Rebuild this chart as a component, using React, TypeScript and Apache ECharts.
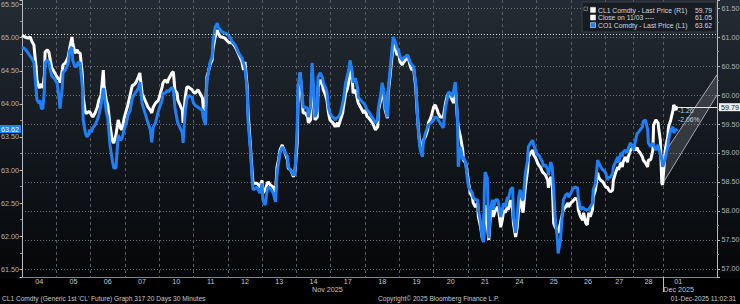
import React, { useEffect, useRef } from "react";
import * as echarts from "echarts";

const FONT = '"Liberation Sans", Arial, sans-serif';

// x axis: 30-minute bar slots
const SLOTS = 933;
const dayLabels = ["04", "05", "06", "07", "10", "11", "12", "13", "14", "17", "18", "19", "20", "21", "24", "25", "26", "27", "28", "01"];
const dayStarts = [0, 46, 92, 138, 184, 230, 276, 322, 368, 414, 460, 506, 552, 598, 644, 690, 736, 782, 820, 860];
const dayLabelAt = [23, 69, 115, 161, 207, 253, 299, 345, 391, 437, 483, 529, 575, 621, 667, 713, 759, 801, 840, 880];
const monthLabels = ["Nov 2025", "Dec 2025"];
const monthLabelAt = [389, 860];

// bar index of each sample
const times = [
  0, 4, 8, 11, 13, 16, 17, 19, 20, 23, 24, 26, 28, 30, 31, 34, 36, 38, 40, 43, 46,
  47, 50, 51, 54, 55, 58, 60, 62, 64, 67, 68, 71, 74, 75, 78, 81, 82, 85, 87, 89, 91,
  93, 95, 98, 101, 103, 106, 109, 110, 113, 115, 118, 121, 123, 126, 129, 132, 134, 137,
  140, 142, 145, 148, 150, 153, 156, 158, 161, 165, 169, 172, 174, 176, 179, 183,
  188, 189, 192, 195, 196, 201, 203, 205, 208, 209, 215, 216, 219, 221, 223, 228,
  230, 232, 236, 242, 243, 246, 248, 250, 252, 255, 256, 259, 262, 263, 266, 268, 272, 277,
  279, 282, 286, 290, 295, 297, 299, 302, 303, 306, 309, 310, 315, 319, 322,
  323, 326, 329, 330, 333, 337, 340, 342, 344, 346, 349, 350, 353, 356, 357, 360, 362, 364, 366,
  369, 370, 373, 376, 377, 380, 383, 384, 387, 389, 391, 393, 396, 397, 400, 403, 404, 407, 409, 411,
  413, 416, 417, 420, 423, 424, 427, 430, 431, 434, 436, 438, 440, 443, 444, 447, 450, 451, 454, 458,
  460, 463, 464, 470, 474, 477, 478, 481, 483, 485, 487, 490, 491, 494, 497, 498, 501, 503,
  505, 507, 510, 511, 514, 517, 518, 521, 523, 525, 528, 530, 532, 534, 537, 538, 541, 544, 545, 548, 550,
  552, 554, 557, 558, 561, 564, 565, 568, 570, 572, 575, 577, 579, 581, 584, 585, 588, 591, 592, 595,
  597, 599, 601, 604, 605, 608, 611, 612, 615, 617, 619, 620, 621, 624, 626, 628, 631, 632, 635, 638, 639, 642,
  644, 646, 648, 651, 652, 655, 658, 659, 662, 664, 666, 668, 671, 672, 675, 678, 679, 682, 685, 686, 689,
  691, 693, 695, 698, 699, 702, 705, 706, 709, 711, 713, 715, 718, 719, 722, 725, 726, 729, 732, 733,
  736, 738, 740, 742, 745, 746, 749, 752, 753, 756, 758, 760, 762, 765, 766, 769, 772, 773, 776, 779, 780,
  783, 785, 787, 789, 792, 793, 796, 799, 800, 803, 805, 806, 809, 812, 813, 816, 819,
  820, 822, 825, 826, 829, 832, 833, 836, 839, 840, 843, 846, 847, 850, 853, 854, 856, 858, 859,
  860, 862, 863, 866, 867, 870, 873, 874, 877, 878, 879,
];

// CL1 Comdty (right axis)
const cl1 = [
  61.03, 61.0, 60.98, 61.0, 60.93, 60.86, 60.72, 60.47, 60.26, 60.12, 60.14, 60.19, 60.12, 60.34, 60.74, 60.78, 60.74, 60.6, 60.47, 60.4, 60.33,
  60.31, 60.26, 60.21, 60.43, 60.52, 60.55, 60.6, 60.66, 60.81, 61.0, 60.9, 60.72, 60.78, 60.74, 60.72, 60.34, 59.97, 59.69, 59.69, 59.71, 59.71,
  59.66, 59.62, 59.69, 59.79, 59.91, 60.0, 60.43, 60.17, 59.91, 59.83, 59.48, 59.22, 59.17, 59.31, 59.57, 59.43, 59.4, 59.6,
  59.74, 59.83, 60.0, 60.17, 60.17, 60.22, 60.31, 60.38, 60.03, 59.91, 59.79, 59.74, 59.69, 59.79, 59.86, 59.91,
  60.14, 60.21, 60.26, 60.21, 60.26, 60.38, 60.4, 60.09, 60.03, 59.91, 59.74, 59.52, 59.97, 60.14, 60.14, 60.09,
  60.05, 60.03, 60.09, 59.95, 59.79, 59.74, 60.31, 60.4, 60.52, 60.6, 60.78, 61.0, 61.12, 61.07, 61.0, 61.0, 60.98, 60.91,
  60.9, 60.9, 60.83, 60.72, 60.57, 60.43, 60.57, 60.14, 59.74, 59.17, 58.59, 58.48, 58.48, 58.41, 58.53,
  58.31, 58.36, 58.48, 58.5, 58.45, 58.41, 58.31, 58.76, 58.88, 59.05, 59.14, 59.1, 59.0, 58.88, 58.74, 58.71, 58.66, 58.59, 58.66,
  59.17, 59.86, 60.38, 59.86, 59.69, 59.69, 59.62, 59.52, 59.57, 60.38, 59.97, 59.57, 59.62, 60.14, 60.26, 60.17, 60.09, 60.0, 59.91, 59.69,
  59.57, 59.53, 59.52, 59.45, 59.52, 59.45, 59.57, 59.69, 59.79, 60.03, 60.09, 60.21, 60.48, 60.26, 60.03, 60.09, 59.91, 59.86, 59.79, 59.69,
  59.74, 59.62, 59.62, 59.52, 59.4, 59.45, 59.74, 59.91, 60.14, 59.97, 59.74, 59.6, 60.03, 60.38, 60.78, 60.9, 60.78, 60.69,
  60.72, 60.57, 60.52, 60.55, 60.6, 60.66, 60.64, 60.48, 60.43, 60.47, 60.14, 59.69, 59.34, 59.1, 59.14, 59.22, 59.28, 59.4, 59.52, 59.6, 59.69,
  59.79, 59.83, 59.74, 59.69, 59.62, 59.62, 59.62, 59.86, 59.97, 60.03, 59.97, 59.91, 59.86, 60.14, 59.57, 59.45, 59.28, 59.05, 58.88, 58.83,
  58.66, 58.48, 58.31, 58.24, 58.14, 58.07, 58.14, 57.9, 57.72, 57.55, 57.5, 57.93, 58.1, 57.76, 57.5, 57.9, 58.07, 57.9, 58.02, 58.07, 58.02, 57.72,
  57.84, 58.02, 57.97, 58.07, 58.02, 58.19, 58.02, 57.79, 57.55, 57.72, 58.02, 58.24, 58.02, 57.97, 58.41, 58.71, 58.93, 59.0, 59.05, 58.97, 58.91,
  58.84, 58.79, 58.76, 58.67, 58.66, 58.62, 58.53, 58.4, 58.59, 58.5, 57.79, 57.72, 57.67, 57.62, 57.79, 57.97, 58.02, 58.07, 58.14, 58.07,
  58.14, 58.16, 58.19, 58.22, 58.19, 58.02, 57.9, 57.84, 57.97, 57.79, 57.76, 57.97, 57.9, 58.02, 58.24, 58.36, 58.66, 58.59, 58.53, 58.5, 58.48,
  58.41, 58.41, 58.36, 58.33, 58.36, 58.53, 58.66, 58.76, 58.71, 58.84, 58.76, 58.84, 58.93, 58.84, 58.93, 59.05, 59.09,
  59.14, 59.05, 59.09, 59.05, 59.0, 58.93, 58.88, 58.83, 58.76, 58.88, 58.88, 59.05, 59.48, 59.57, 59.52, 59.4, 59.22, 58.48, 58.45,
  58.62, 58.93, 59.09, 59.28, 59.45, 59.57, 59.74, 59.83, 59.74, 59.79, 59.79,
];

// CO1 Comdty (left axis)
const co1 = [
  64.86, 64.83, 64.77, 64.72, 64.69, 64.63, 64.48, 64.21, 64.06, 64.01, 64.06, 63.93, 63.93, 64.21, 64.62, 64.66, 64.63, 64.51, 64.42, 64.39, 64.33,
  64.32, 64.06, 63.93, 64.25, 64.47, 64.51, 64.56, 64.62, 64.81, 64.86, 64.66, 64.56, 64.57, 64.63, 64.62, 64.25, 63.76, 63.56, 63.5, 63.53, 63.61,
  63.57, 63.64, 63.68, 63.76, 63.83, 63.98, 64.24, 64.18, 63.88, 63.79, 63.38, 63.15, 63.03, 63.03, 63.53, 63.45, 63.48, 63.61,
  63.71, 63.83, 63.9, 64.1, 64.13, 64.18, 64.24, 64.33, 64.01, 63.86, 63.71, 63.61, 63.42, 63.65, 63.71, 63.9,
  64.06, 64.16, 64.16, 64.21, 64.18, 64.25, 64.21, 63.95, 63.76, 63.71, 63.56, 63.41, 63.9, 64.06, 64.13, 64.1,
  64.01, 63.98, 63.95, 63.9, 63.8, 63.68, 64.36, 64.47, 64.62, 64.71, 64.92, 65.16, 65.22, 65.16, 65.12, 65.09, 65.07, 65.04,
  65.01, 64.94, 64.89, 64.78, 64.69, 64.62, 64.54, 64.21, 63.76, 63.35, 62.8, 62.7, 62.74, 62.65, 62.8,
  62.55, 62.47, 62.7, 62.74, 62.73, 62.65, 62.52, 62.95, 63.11, 63.26, 63.35, 63.33, 63.26, 63.2, 63.05, 63.0, 62.97, 62.92, 62.95,
  63.61, 64.25, 64.48, 64.1, 63.95, 63.95, 63.93, 63.8, 63.95, 64.62, 64.25, 63.8, 63.9, 64.41, 64.47, 64.39, 64.33, 64.25, 64.18, 63.95,
  63.86, 63.8, 63.8, 63.76, 63.8, 63.79, 63.86, 64.01, 64.06, 64.32, 64.41, 64.51, 64.66, 64.47, 64.32, 64.39, 64.24, 64.1, 64.06, 64.01,
  63.98, 63.9, 63.9, 63.79, 63.71, 63.76, 63.95, 64.13, 64.32, 64.21, 63.95, 63.8, 64.21, 64.56, 64.92, 65.01, 64.92, 64.84,
  64.81, 64.71, 64.66, 64.69, 64.71, 64.74, 64.71, 64.62, 64.59, 64.56, 64.32, 63.9, 63.5, 63.3, 63.2, 63.41, 63.56, 63.65, 63.68, 63.71, 63.73,
  63.76, 63.8, 63.79, 63.76, 63.71, 63.65, 63.64, 63.95, 64.06, 64.18, 64.16, 64.1, 64.21, 64.33, 63.8, 63.05, 63.35, 63.15, 63.2, 63.11,
  62.89, 62.74, 62.7, 62.65, 62.59, 62.55, 62.55, 62.4, 62.21, 61.97, 61.91, 62.7, 62.97, 62.88, 61.97, 62.4, 62.55, 62.4, 62.55, 62.55, 62.5, 62.29,
  62.4, 62.5, 62.44, 62.59, 62.55, 62.7, 62.74, 62.29, 62.05, 62.29, 62.59, 62.7, 62.55, 62.55, 62.95, 63.15, 63.35, 63.41, 63.45, 63.38, 63.3,
  63.23, 63.23, 63.18, 63.12, 63.05, 63.08, 63.0, 62.92, 63.12, 63.05, 62.7, 62.29, 61.94, 61.74, 61.94, 62.4, 62.55, 62.62, 62.65, 62.59,
  62.65, 62.7, 62.73, 62.74, 62.73, 62.59, 62.4, 62.44, 62.42, 62.4, 62.4, 62.4, 62.44, 62.5, 62.7, 62.8, 63.15, 63.12, 63.05, 63.0, 63.0,
  62.95, 62.85, 62.89, 62.89, 62.95, 63.05, 63.12, 63.2, 63.11, 63.26, 63.2, 63.27, 63.3, 63.26, 63.33, 63.41, 63.35,
  63.3, 63.41, 63.56, 63.56, 63.61, 63.65, 63.73, 63.76, 63.61, 63.41, 63.35, 63.41, 63.38, 63.3, 63.38, 63.33, 63.23, 63.15, 63.05,
  63.08, 63.15, 63.2, 63.35, 63.45, 63.61, 63.65, 63.56, 63.61, 63.61, 63.62,
];

const cl1Last = 59.79;
const co1Last = 63.62;
const cl1Close = 61.05;
const lastIndex = 878;
const changeText = ["-1.26", "-2.06%"];

// trend channel (right axis)
const channelX = [859, 932];
const channelUpper = [58.95, 60.35];
const channelLower = [58.47, 60.0];

const legendRows = [
  { label: "CL1 Comdty - Last Price (R1)", value: "59.79", color: "#ffffff" },
  { label: "Close on 11/03 ----", value: "61.05", color: "#ffffff" },
  { label: "CO1 Comdty - Last Price (L1)", value: "63.62", color: "#1f7ff7" },
];

const footerLeft = "CL1 Comdty (Generic 1st 'CL' Future) Graph 317 20 Days 30 Minutes";
const footerMid = "Copyright\u00a9 2025 Bloomberg Finance L.P.";
const footerRight = "01-Dec-2025 11:02:31";

const BLUE = "#1f7ff7";

export default function App() {
  const ref = useRef<HTMLDivElement>(null);

  useEffect(() => {
    const el = ref.current;
    if (!el) return;
    const chart = echarts.init(el, undefined, { renderer: "svg", width: 740, height: 304 });

    const dayCats: string[] = Array.from({ length: SLOTS }, () => "");
    dayLabelAt.forEach((p, i) => (dayCats[p] = dayLabels[i]));
    const monthCats: string[] = Array.from({ length: SLOTS }, () => "");
    monthLabelAt.forEach((p, i) => (monthCats[p] = monthLabels[i]));
    const boundaries = new Set(dayStarts.slice(1));

    const n = Math.min(times.length, cl1.length, co1.length);
    const cl1Data: number[][] = [];
    const co1Data: number[][] = [];
    for (let i = 0; i < n; i++) {
      cl1Data.push([times[i], cl1[i]]);
      co1Data.push([times[i], co1[i]]);
    }

    const axisLabelBase = { fontFamily: FONT, fontSize: 7.2, color: "#aeb5bc" };

    const graphics: any[] = [
      {
        type: "rect",
        shape: { x: 582, y: 2, width: 134, height: 30 },
        style: { fill: "rgba(22,27,32,0.93)", stroke: "#3a4148", lineWidth: 1 },
        z: 100,
      },
      {
        type: "rect",
        shape: { x: 584, y: 7, width: 3.5, height: 3.5 },
        style: { fill: "none", stroke: "#80868c", lineWidth: 0.8 },
        z: 101,
      },
    ];
    legendRows.forEach((r, i) => {
      const y = 10 + i * 7.6;
      graphics.push({
        type: "rect",
        shape: { x: 590.5, y: y - 2.6, width: 5, height: 5 },
        style: { fill: r.color, stroke: "#ffffff", lineWidth: 0.5 },
        z: 101,
      });
      graphics.push({
        type: "text",
        x: 598,
        y,
        style: { text: r.label, fill: "#d4d8dc", fontFamily: FONT, fontSize: 6.8, verticalAlign: "middle", align: "left" },
        z: 101,
      });
      graphics.push({
        type: "text",
        x: 712,
        y,
        style: { text: r.value, fill: "#d4d8dc", fontFamily: FONT, fontSize: 6.8, verticalAlign: "middle", align: "right" },
        z: 101,
      });
    });
    const footStyle = { fill: "#c4c8cc", fontFamily: FONT, fontSize: 6.6, verticalAlign: "middle" };
    graphics.push({ type: "text", x: 2, y: 298, style: { ...footStyle, text: footerLeft, align: "left" } });
    graphics.push({ type: "text", x: 378, y: 298, style: { ...footStyle, text: footerMid, align: "left" } });
    graphics.push({ type: "text", x: 736, y: 298, style: { ...footStyle, text: footerRight, align: "right" } });

    const option: any = {
      animation: false,
      grid: { left: 22, right: 23, top: 0, bottom: 27, outerBoundsMode: "none" },
      xAxis: [
        {
          type: "category",
          data: dayCats,
          boundaryGap: false,
          position: "bottom",
          axisLine: { show: true, lineStyle: { color: "#7e858c", width: 1 } },
          axisTick: { show: true, interval: (i: number) => i === 860, length: 15, lineStyle: { color: "#b8bec4" } },
          axisLabel: { ...axisLabelBase, color: "#c4c9ce", interval: (_i: number, v: string) => v !== "", margin: 1 },
          splitLine: {
            show: true,
            interval: (i: number) => boundaries.has(i),
            lineStyle: { color: "#565d64", type: [3, 3], width: 1 },
          },
        },
        {
          type: "category",
          data: monthCats,
          boundaryGap: false,
          position: "bottom",
          axisLine: { show: false },
          axisTick: { show: false },
          splitLine: { show: false },
          axisLabel: { ...axisLabelBase, color: "#c4c9ce", interval: (_i: number, v: string) => v !== "", margin: 9, align: "left" },
        },
      ],
      yAxis: [
        {
          type: "value",
          position: "left",
          min: 61.3836,
          max: 65.5697,
          splitNumber: 8,
          minInterval: 0.5,
          maxInterval: 0.5,
          axisLine: { show: true, lineStyle: { color: "#b4bac0", width: 1 } },
          axisTick: { show: true, length: 2.5, lineStyle: { color: "#b4bac0" } },
          minorTick: { show: true, splitNumber: 2, length: 2, lineStyle: { color: "#8a9096" } },
          axisLabel: { ...axisLabelBase, margin: 3, showMinLabel: false, showMaxLabel: false, formatter: (v: number) => v.toFixed(2) },
          splitLine: { show: false },
        },
        {
          type: "value",
          position: "right",
          min: 56.862,
          max: 61.638,
          splitNumber: 8,
          minInterval: 0.5,
          maxInterval: 0.5,
          axisLine: { show: true, lineStyle: { color: "#b4bac0", width: 1 } },
          axisTick: { show: true, length: 3, lineStyle: { color: "#b4bac0" } },
          minorTick: { show: true, splitNumber: 2, length: 2, lineStyle: { color: "#8a9096" } },
          axisLabel: { ...axisLabelBase, margin: 4.5, showMinLabel: false, showMaxLabel: false, formatter: (v: number) => v.toFixed(2) },
          splitLine: {
            show: true,
            showMinLine: false,
            showMaxLine: false,
            lineStyle: { color: "#6c737a", type: [1, 2], width: 1 },
          },
        },
      ],
      series: [
        {
          type: "custom",
          name: "channel",
          xAxisIndex: 0,
          yAxisIndex: 1,
          silent: true,
          z: 1,
          data: [[channelX[0], channelUpper[0], channelX[1], channelUpper[1], channelLower[0], channelLower[1]]],
          renderItem: (_p: any, api: any) => {
            const a = api.coord([api.value(0), api.value(1)]);
            const b = api.coord([api.value(2), api.value(3)]);
            const c = api.coord([api.value(2), api.value(5)]);
            const d = api.coord([api.value(0), api.value(4)]);
            return {
              type: "group",
              children: [
                { type: "polygon", shape: { points: [a, b, c, d] }, style: { fill: "rgba(255,255,255,0.14)" } },
                { type: "line", shape: { x1: a[0], y1: a[1], x2: b[0], y2: b[1] }, style: { stroke: "#a4aaaf", lineWidth: 1 } },
                { type: "line", shape: { x1: d[0], y1: d[1], x2: c[0], y2: c[1] }, style: { stroke: "#a4aaaf", lineWidth: 1 } },
              ],
            };
          },
        },
        {
          type: "line",
          name: "CL1 Comdty",
          xAxisIndex: 0,
          yAxisIndex: 1,
          data: cl1Data,
          showSymbol: false,
          symbol: "none",
          z: 3,
          lineStyle: { color: "#ffffff", width: 3 },
          markLine: {
            silent: true,
            symbol: ["none", "none"],
            lineStyle: { color: "#e6e6e6", type: [1, 2], width: 1 },
            label: { show: false },
            data: [{ yAxis: cl1Close }],
          },
        },
        {
          type: "line",
          name: "CO1 Comdty",
          xAxisIndex: 0,
          yAxisIndex: 0,
          data: co1Data,
          showSymbol: false,
          symbol: "none",
          z: 4,
          lineStyle: { color: BLUE, width: 3 },
          markLine: {
            silent: true,
            symbol: ["none", "none"],
            lineStyle: { color: "rgba(0,0,0,0)", width: 1 },
            label: {
              show: true,
              position: "start",
              distance: 1,
              formatter: () => co1Last.toFixed(2),
              backgroundColor: BLUE,
              color: "#ffffff",
              fontFamily: FONT,
              fontSize: 7.2,
              padding: [1, 2, 0, 2],
              borderRadius: 1,
            },
            data: [{ yAxis: co1Last }],
          },
        },
        {
          type: "line",
          name: "last",
          xAxisIndex: 0,
          yAxisIndex: 1,
          data: [[lastIndex, cl1Last]],
          showSymbol: false,
          symbol: "none",
          z: 5,
          lineStyle: { width: 0 },
          markLine: {
            silent: true,
            symbol: ["none", "none"],
            lineStyle: { color: "#e8e8e8", type: "solid", width: 1 },
            label: {
              show: true,
              position: "end",
              distance: 2,
              formatter: () => cl1Last.toFixed(2),
              backgroundColor: "#f2f2f2",
              color: "#111111",
              fontFamily: FONT,
              fontSize: 7.2,
              padding: [1, 2, 0, 2],
            },
            data: [[{ coord: [lastIndex, cl1Last] }, { coord: [SLOTS - 1, cl1Last] }]],
          },
          markPoint: {
            silent: true,
            symbol: "rect",
            symbolSize: 1,
            itemStyle: { color: "rgba(0,0,0,0)" },
            label: {
              show: true,
              position: [1, 0],
              align: "left",
              verticalAlign: "top",
              formatter: () => changeText.join("\n"),
              color: "#c8cccf",
              fontFamily: FONT,
              fontSize: 6.8,
              lineHeight: 8.5,
            },
            data: [{ coord: [lastIndex + 1, cl1Last] }],
          },
        },
      ],
      graphic: graphics,
    };

    chart.setOption(option);
    return () => chart.dispose();
  }, []);

  return (
    <div
      ref={ref}
      style={{
        position: "absolute",
        left: 0,
        top: 0,
        width: 740,
        height: 304,
        background:
          "linear-gradient(180deg, #232b34 0px, #171d23 110px, #0c0f13 210px, #050607 277px, #000000 279px, #000000 304px)",
      }}
    />
  );
}
